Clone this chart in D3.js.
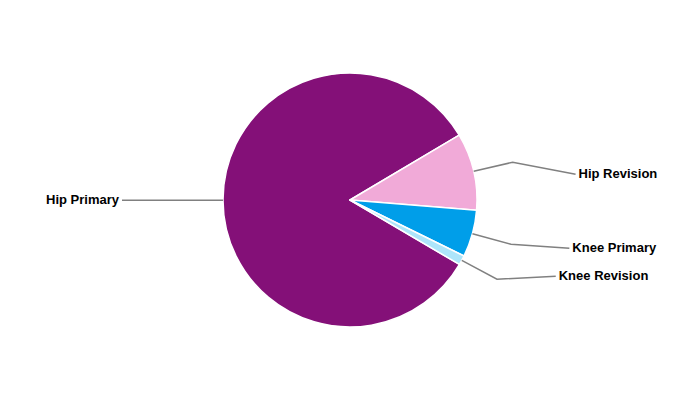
<!DOCTYPE html>
<html>
<head>
<meta charset="utf-8">
<script src="https://cdn.jsdelivr.net/npm/d3@7"></script>
<style>
  html, body { margin: 0; padding: 0; background: #ffffff; }
  svg { display: block; }
</style>
</head>
<body>
<div id="chart"></div>
<script>
// ---- Data ----
const categories = ["Hip Primary", "Hip Revision", "Knee Primary", "Knee Revision"];
const values = [83.0, 9.8, 6.0, 1.2];
const colors = ["#841078", "#F1AAD8", "#009EE9", "#ADE5FA"];

// ---- Layout ----
const W = 700, H = 400;
const cx = 350, cy = 200, R = 127;
const startDeg = 120.5;
const elbowOut = 40;
const labelA = 228, labelB = 177;           // label ellipse semi-axes
const labelShift = { "Hip Primary": 0, "Hip Revision": 12, "Knee Primary": 4, "Knee Revision": -3 };

const svg = d3.select("#chart").append("svg")
  .attr("width", W).attr("height", H);

const g = svg.append("g").attr("transform", `translate(${cx},${cy})`);

const start = startDeg * Math.PI / 180;
const pie = d3.pie().sort(null).value(d => d.value)
  .startAngle(start).endAngle(start + 2 * Math.PI);

const data = categories.map((c, i) => ({ name: c, value: values[i], color: colors[i] }));
const arcs = pie(data);

const arc = d3.arc().innerRadius(0).outerRadius(R);

g.selectAll("path.slice").data(arcs).enter().append("path")
  .attr("class", "slice")
  .attr("d", arc)
  .attr("fill", d => d.data.color)
  .attr("stroke", "#ffffff")
  .attr("stroke-width", 1.5)
  .attr("stroke-linejoin", "round");

const pt = (a, r) => [r * Math.sin(a), -r * Math.cos(a)];

arcs.forEach(d => {
  const mid = (d.startAngle + d.endAngle) / 2;
  const p0 = pt(mid, R);
  const p1 = pt(mid, R + elbowOut);
  const right = Math.sin(mid) > 0;
  const ly = p1[1] + labelShift[d.data.name];
  const lx = (right ? 1 : -1) * labelA * Math.sqrt(Math.max(0, 1 - (ly / labelB) ** 2));
  g.append("path")
    .attr("d", d3.line()([p0, p1, [lx, ly]]))
    .attr("fill", "none")
    .attr("stroke", "#808080")
    .attr("stroke-width", 1.5);
  g.append("text")
    .attr("x", lx + (right ? 3 : -3))
    .attr("y", ly + 3.5)
    .attr("text-anchor", right ? "start" : "end")
    .attr("font-family", "'Liberation Sans', Arial, sans-serif")
    .attr("font-weight", "bold")
    .attr("font-size", 13)
    .attr("fill", "#000000")
    .text(d.data.name);
});
</script>
</body>
</html>
